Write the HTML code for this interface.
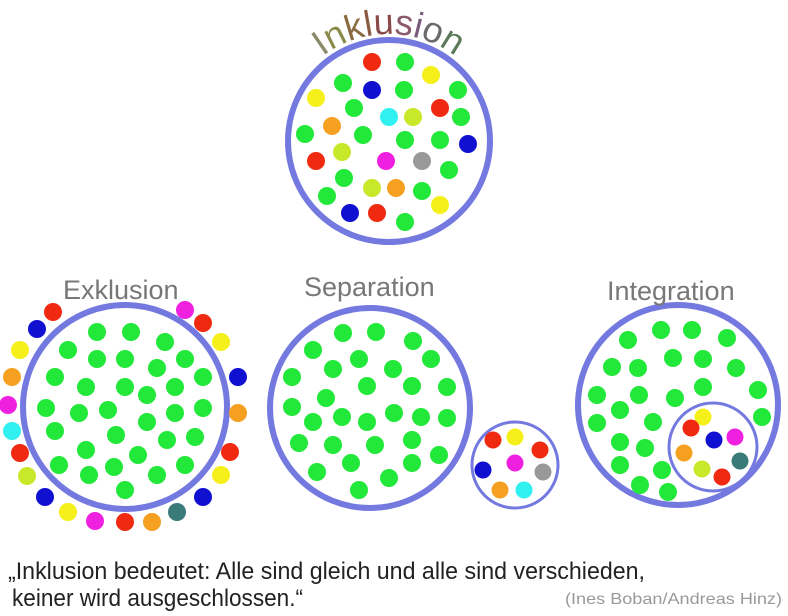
<!DOCTYPE html>
<html><head><meta charset="utf-8"><style>html,body{margin:0;padding:0;background:#fff;}svg{display:block}</style></head>
<body>
<svg width="788" height="616" viewBox="0 0 788 616" xmlns="http://www.w3.org/2000/svg" font-family="Liberation Sans, sans-serif">
<defs><path id="arc" d="M 279,144 A 110 110 0 0 1 499,144"/></defs>
<text font-size="36" letter-spacing="0"><textPath href="#arc" startOffset="50%" text-anchor="middle"><tspan fill="#8a8a6a">I</tspan><tspan fill="#8a8a4a">n</tspan><tspan fill="#8a6a40">k</tspan><tspan fill="#8a5a40">l</tspan><tspan fill="#8a4a4a">u</tspan><tspan fill="#8a5a6a">s</tspan><tspan fill="#7a5a7a">i</tspan><tspan fill="#6a6a6a">o</tspan><tspan fill="#5a7a5a">n</tspan></textPath></text>
<g fill="none" stroke="#7479e0">
<circle cx="389" cy="141" r="101" stroke-width="6"/>
<circle cx="125" cy="407" r="102" stroke-width="6"/>
<circle cx="370" cy="408" r="100" stroke-width="6"/>
<circle cx="678" cy="405" r="100" stroke-width="6"/>
<circle cx="515" cy="465" r="43" stroke-width="3"/>
<circle cx="713" cy="447" r="44" stroke-width="3"/>
</g>
<g font-size="27" fill="#777">
<text x="63" y="299">Exklusion</text>
<text x="304" y="296">Separation</text>
<text x="607" y="300">Integration</text>
</g>
<g id="dots">
<g fill="#22e83a">
<circle cx="405" cy="62" r="9"/><circle cx="343" cy="83" r="9"/><circle cx="404" cy="90" r="9"/><circle cx="458" cy="90" r="9"/><circle cx="354" cy="108" r="9"/><circle cx="461" cy="117" r="9"/><circle cx="305" cy="134" r="9"/><circle cx="363" cy="135" r="9"/><circle cx="405" cy="140" r="9"/><circle cx="440" cy="140" r="9"/><circle cx="449" cy="170" r="9"/><circle cx="344" cy="178" r="9"/><circle cx="422" cy="191" r="9"/><circle cx="327" cy="196" r="9"/><circle cx="405" cy="222" r="9"/>
</g>
<circle cx="372" cy="62" r="9" fill="#f02a10"/><circle cx="431" cy="75" r="9" fill="#f5f01a"/><circle cx="372" cy="90" r="9" fill="#1010d0"/><circle cx="316" cy="98" r="9" fill="#f5f01a"/><circle cx="389" cy="117" r="9" fill="#30f0f0"/><circle cx="413" cy="117" r="9" fill="#c8e82a"/><circle cx="440" cy="108" r="9" fill="#f02a10"/><circle cx="332" cy="126" r="9" fill="#f5a020"/><circle cx="468" cy="144" r="9" fill="#1010d0"/><circle cx="316" cy="161" r="9" fill="#f02a10"/><circle cx="342" cy="152" r="9" fill="#c8e82a"/><circle cx="386" cy="161" r="9" fill="#f020e0"/><circle cx="422" cy="161" r="9" fill="#999"/><circle cx="372" cy="188" r="9" fill="#c8e82a"/><circle cx="396" cy="188" r="9" fill="#f5a020"/><circle cx="440" cy="205" r="9" fill="#f5f01a"/><circle cx="350" cy="213" r="9" fill="#1010d0"/><circle cx="377" cy="213" r="9" fill="#f02a10"/>
<g fill="#22e83a">
<circle cx="97" cy="332" r="9"/><circle cx="131" cy="332" r="9"/><circle cx="68" cy="350" r="9"/><circle cx="165" cy="342" r="9"/><circle cx="97" cy="359" r="9"/><circle cx="125" cy="359" r="9"/><circle cx="157" cy="368" r="9"/><circle cx="185" cy="359" r="9"/><circle cx="55" cy="377" r="9"/><circle cx="86" cy="387" r="9"/><circle cx="125" cy="387" r="9"/><circle cx="147" cy="395" r="9"/><circle cx="175" cy="387" r="9"/><circle cx="203" cy="377" r="9"/><circle cx="46" cy="408" r="9"/><circle cx="79" cy="413" r="9"/><circle cx="108" cy="410" r="9"/><circle cx="147" cy="422" r="9"/><circle cx="175" cy="413" r="9"/><circle cx="203" cy="408" r="9"/><circle cx="55" cy="431" r="9"/><circle cx="116" cy="435" r="9"/><circle cx="167" cy="440" r="9"/><circle cx="195" cy="437" r="9"/><circle cx="86" cy="450" r="9"/><circle cx="138" cy="455" r="9"/><circle cx="59" cy="465" r="9"/><circle cx="89" cy="475" r="9"/><circle cx="114" cy="467" r="9"/><circle cx="157" cy="475" r="9"/><circle cx="185" cy="465" r="9"/><circle cx="125" cy="490" r="9"/>
</g>
<circle cx="53" cy="312" r="9" fill="#f02a10"/><circle cx="37" cy="329" r="9" fill="#1010d0"/><circle cx="20" cy="350" r="9" fill="#f5f01a"/><circle cx="12" cy="377" r="9" fill="#f5a020"/><circle cx="8" cy="405" r="9" fill="#f020e0"/><circle cx="12" cy="431" r="9" fill="#30f0f0"/><circle cx="20" cy="453" r="9" fill="#f02a10"/><circle cx="27" cy="476" r="9" fill="#c8e82a"/><circle cx="45" cy="497" r="9" fill="#1010d0"/><circle cx="68" cy="512" r="9" fill="#f5f01a"/><circle cx="95" cy="521" r="9" fill="#f020e0"/><circle cx="125" cy="522" r="9" fill="#f02a10"/><circle cx="152" cy="522" r="9" fill="#f5a020"/><circle cx="177" cy="512" r="9" fill="#3a7a78"/><circle cx="203" cy="497" r="9" fill="#1010d0"/><circle cx="221" cy="475" r="9" fill="#f5f01a"/><circle cx="230" cy="452" r="9" fill="#f02a10"/><circle cx="238" cy="413" r="9" fill="#f5a020"/><circle cx="238" cy="377" r="9" fill="#1010d0"/><circle cx="221" cy="342" r="9" fill="#f5f01a"/><circle cx="203" cy="323" r="9" fill="#f02a10"/><circle cx="185" cy="310" r="9" fill="#f020e0"/>
<g fill="#22e83a">
<circle cx="343" cy="333" r="9"/><circle cx="376" cy="332" r="9"/><circle cx="313" cy="350" r="9"/><circle cx="413" cy="341" r="9"/><circle cx="359" cy="359" r="9"/><circle cx="333" cy="369" r="9"/><circle cx="393" cy="369" r="9"/><circle cx="431" cy="359" r="9"/><circle cx="292" cy="377" r="9"/><circle cx="367" cy="386" r="9"/><circle cx="412" cy="386" r="9"/><circle cx="447" cy="387" r="9"/><circle cx="326" cy="398" r="9"/><circle cx="292" cy="407" r="9"/><circle cx="342" cy="417" r="9"/><circle cx="313" cy="422" r="9"/><circle cx="367" cy="422" r="9"/><circle cx="394" cy="413" r="9"/><circle cx="421" cy="417" r="9"/><circle cx="447" cy="418" r="9"/><circle cx="299" cy="443" r="9"/><circle cx="333" cy="445" r="9"/><circle cx="375" cy="445" r="9"/><circle cx="412" cy="440" r="9"/><circle cx="351" cy="463" r="9"/><circle cx="439" cy="455" r="9"/><circle cx="412" cy="463" r="9"/><circle cx="317" cy="472" r="9"/><circle cx="389" cy="478" r="9"/><circle cx="359" cy="490" r="9"/>
</g>
<circle cx="493" cy="440" r="8.5" fill="#f02a10"/><circle cx="515" cy="437" r="8.5" fill="#f5f01a"/><circle cx="540" cy="450" r="8.5" fill="#f02a10"/><circle cx="483" cy="470" r="8.5" fill="#1010d0"/><circle cx="515" cy="463" r="8.5" fill="#f020e0"/><circle cx="543" cy="472" r="8.5" fill="#999"/><circle cx="500" cy="490" r="8.5" fill="#f5a020"/><circle cx="524" cy="490" r="8.5" fill="#30f0f0"/>
<g fill="#22e83a">
<circle cx="661" cy="330" r="9"/><circle cx="692" cy="330" r="9"/><circle cx="628" cy="340" r="9"/><circle cx="727" cy="338" r="9"/><circle cx="673" cy="358" r="9"/><circle cx="703" cy="359" r="9"/><circle cx="612" cy="367" r="9"/><circle cx="638" cy="368" r="9"/><circle cx="736" cy="368" r="9"/><circle cx="703" cy="387" r="9"/><circle cx="675" cy="398" r="9"/><circle cx="639" cy="395" r="9"/><circle cx="597" cy="395" r="9"/><circle cx="758" cy="390" r="9"/><circle cx="620" cy="410" r="9"/><circle cx="653" cy="422" r="9"/><circle cx="597" cy="423" r="9"/><circle cx="762" cy="417" r="9"/><circle cx="620" cy="442" r="9"/><circle cx="645" cy="448" r="9"/><circle cx="620" cy="465" r="9"/><circle cx="662" cy="470" r="9"/><circle cx="640" cy="485" r="9"/><circle cx="668" cy="492" r="9"/>
</g>
<circle cx="703" cy="417" r="8.5" fill="#f5f01a"/><circle cx="691" cy="428" r="8.5" fill="#f02a10"/><circle cx="714" cy="440" r="8.5" fill="#1010d0"/><circle cx="735" cy="437" r="8.5" fill="#f020e0"/><circle cx="684" cy="453" r="8.5" fill="#f5a020"/><circle cx="740" cy="461" r="8.5" fill="#3a7a78"/><circle cx="702" cy="469" r="8.5" fill="#c8e82a"/><circle cx="722" cy="477" r="8.5" fill="#f02a10"/>
</g>
<text x="8" y="579" font-size="24" fill="#222" textLength="637" lengthAdjust="spacingAndGlyphs">„Inklusion bedeutet: Alle sind gleich und alle sind verschieden,</text>
<text x="12" y="606" font-size="24" fill="#222" textLength="291" lengthAdjust="spacingAndGlyphs">keiner wird ausgeschlossen.“</text>
<text x="565" y="604" font-size="16" fill="#999" textLength="217" lengthAdjust="spacingAndGlyphs">(Ines Boban/Andreas Hinz)</text>
</svg>
</body></html>
